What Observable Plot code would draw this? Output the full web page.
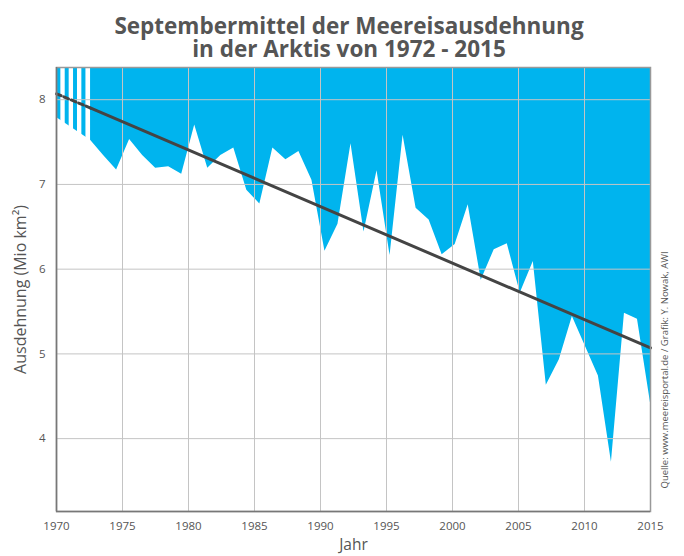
<!DOCTYPE html>
<html><head><meta charset="utf-8">
<script src="https://cdn.jsdelivr.net/npm/d3@7"></script>
<script src="https://cdn.jsdelivr.net/npm/@observablehq/plot@0.6"></script>
<style>
body{margin:0;background:#fff;}
#wrap{width:684px;height:556px;position:relative;font-family:"Open Sans",sans-serif;}
#title{height:60px;box-sizing:border-box;padding-top:14px;padding-left:14px;text-align:center;font-weight:700;font-size:22.5px;color:#555;}
#title div{height:23px;line-height:23px;white-space:nowrap;}
</style></head><body>
<div id="wrap"><div id="title"><div>Septembermittel der Meereisausdehnung</div><div>in der Arktis von 1972 - 2015</div></div><div id="chart"></div></div>
<script>
// September mean sea-ice extent (million km²)
const years = [1972,1973,1974,1975,1976,1977,1978,1979,1980,1981,1982,1983,1984,1985,1986,1987,1988,1989,1990,1991,1992,1993,1994,1995,1996,1997,1998,1999,2000,2001,2002,2003,2004,2005,2006,2007,2008,2009,2010,2011,2012,2013,2014,2015];
const extent = [7.52,7.34,7.17,7.53,7.34,7.19,7.21,7.12,7.70,7.19,7.34,7.43,6.93,6.77,7.43,7.29,7.39,7.05,6.21,6.53,7.48,6.44,7.16,6.16,7.58,6.72,6.58,6.17,6.29,6.76,5.87,6.23,6.30,5.72,6.09,4.63,4.93,5.44,5.09,4.74,3.72,5.48,5.41,4.42];
// hatched (uncertain) part before the record
const stripeYears = [1970, 1972.58];
const stripeValues = [7.79, 7.52];
const gapStart = [1970.33, 1970.96, 1971.59, 1972.23];
const gapEnd   = [1970.66, 1971.29, 1971.92, 1972.58];
// trend line
const trendDashYears = [1970, 1972.6];
const trendDashValues = [8.07, 7.90];
const trendYears = [1972.6, 2015];
const trendValues = [7.90, 5.07];
// ticks
const xTicks = [1970,1975,1980,1985,1990,1995,2000,2005,2010,2015];
const yTicks = [4,5,6,7,8];
const caption = "Quelle: www.meereisportal.de / Grafik: Y. Nowak, AWI";

const blue = "#00b4ee";
const yTop = 8.38, yBot = 3.14;
// the record is drawn between 1972.58 and 2015 on the time axis
const pos = y => 1972.58 + (y - 1972) * (2015 - 1972.58) / (years.length - 1);
const data = years.map((y, i) => ({x: pos(y), v: extent[i]}));
const stripe = stripeYears.map((x, i) => ({x, v: stripeValues[i]}));
const gaps = gapStart.map((a, i) => ({a, b: gapEnd[i]}));
const trendDash = trendDashYears.map((x, i) => ({x, v: trendDashValues[i]}));
const trend = trendYears.map((x, i) => ({x, v: trendValues[i]}));

const plot = Plot.plot({
  width: 684, height: 496,
  marginLeft: 56, marginRight: 34, marginTop: 7, marginBottom: 45,
  style: {fontFamily: '"Open Sans", sans-serif', fontSize: "11.5px", color: "#555", background: "white"},
  x: {domain: [1970, 2015]},
  y: {domain: [yBot, yTop]},
  marks: [
    Plot.areaY(stripe, {x: "x", y1: "v", y2: () => yTop, fill: blue}),
    Plot.rect(gaps, {x1: "a", x2: "b", y1: () => yBot, y2: () => yTop, fill: "white"}),
    Plot.areaY(data, {x: "x", y1: "v", y2: () => yTop, fill: blue}),
    Plot.gridX(xTicks, {stroke: "#c4c4c4", strokeOpacity: 1}),
    Plot.gridY(yTicks, {stroke: "#c4c4c4", strokeOpacity: 1}),
    Plot.line(trendDash, {x: "x", y: "v", stroke: "#444", strokeWidth: 3, strokeDasharray: "5,3"}),
    Plot.line(trend, {x: "x", y: "v", stroke: "#444", strokeWidth: 3}),
    Plot.frame({stroke: "#999", strokeWidth: 1.5}),
    Plot.ruleX([1970], {stroke: "#777", strokeWidth: 1.5}),
    Plot.ruleY([yBot], {stroke: "#777", strokeWidth: 1.5}),
    Plot.axisX(xTicks, {tickSize: 0, tickPadding: 10, tickFormat: d => String(d), label: null}),
    Plot.axisY(yTicks, {tickSize: 0, tickPadding: 11, tickFormat: d => String(d), label: null}),
    Plot.text(["Jahr"], {text: d => d, frameAnchor: "bottom", dy: 34, lineAnchor: "middle", textAnchor: "middle", fontSize: 15.5, fill: "#555"}),
    Plot.text(["Ausdehnung (Mio km²)"], {text: d => d, frameAnchor: "left", dx: -36, rotate: -90, textAnchor: "middle", lineAnchor: "middle", fontSize: 16, fill: "#555"}),
    Plot.text([caption], {text: d => d, frameAnchor: "bottom-right", dx: 14, dy: -23, rotate: -90, textAnchor: "start", lineAnchor: "middle", fontSize: 9.5, fill: "#555"})
  ]
});
document.getElementById("chart").appendChild(plot);
</script>
</body></html>
